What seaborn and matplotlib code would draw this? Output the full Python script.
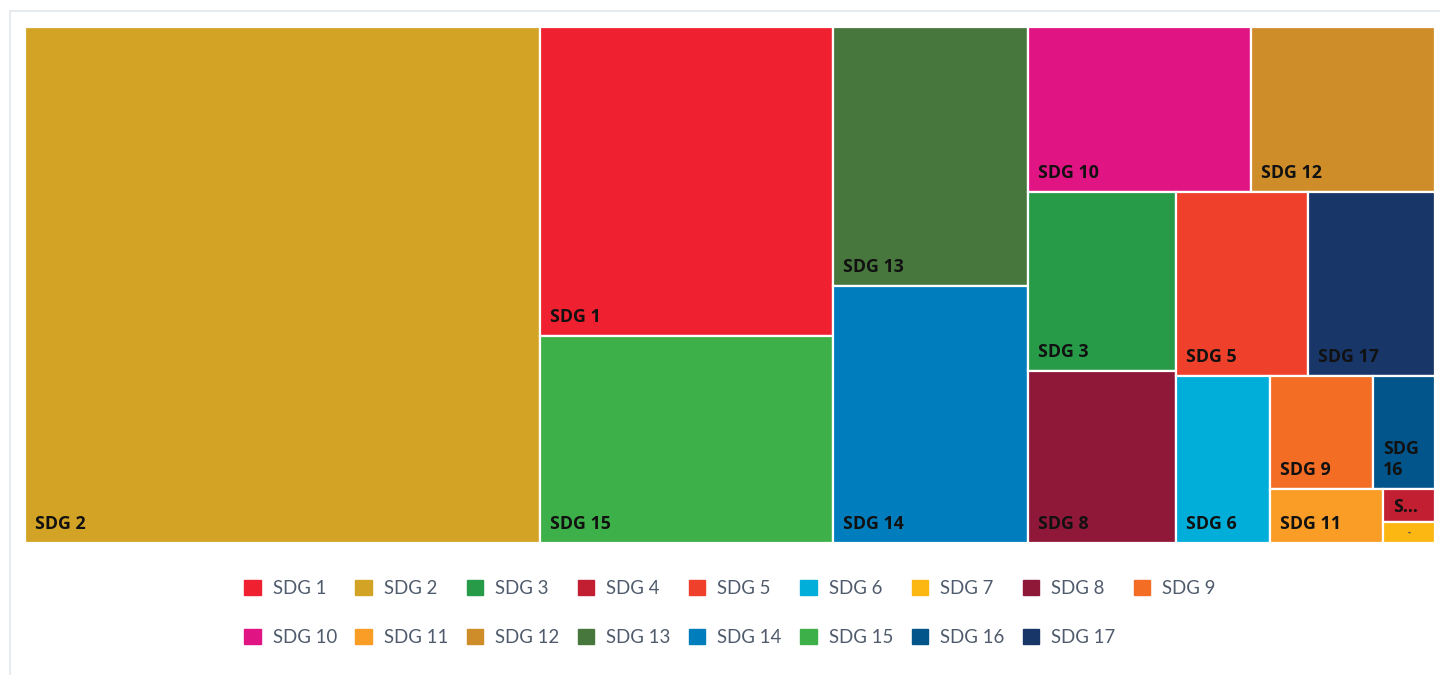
import matplotlib
matplotlib.use("Agg")
import matplotlib.pyplot as plt
from matplotlib.patches import Rectangle, Patch
from matplotlib.lines import Line2D
import seaborn as sns

# ---- data ----
categories = ["SDG 1", "SDG 2", "SDG 3", "SDG 4", "SDG 5", "SDG 6", "SDG 7", "SDG 8", "SDG 9",
              "SDG 10", "SDG 11", "SDG 12", "SDG 13", "SDG 14", "SDG 15", "SDG 16", "SDG 17"]
values = [905, 2657, 265, 17, 243, 157, 11, 255, 116,
          368, 61, 304, 505, 501, 607, 70, 234]
colors = ["#EF2030", "#D3A325", "#279B48", "#C31F33", "#EF402B", "#00AED9", "#FDB713", "#8F1838", "#F36D25",
          "#E11484", "#F99D26", "#CF8D2A", "#48773E", "#007DBC", "#3EB049", "#02558B", "#183668"]

sns.set_theme(style="white")
plt.rcParams['font.family'] = ['Open Sans', 'DejaVu Sans']

W_PX, H_PX = 1440, 675
fig = plt.figure(figsize=(W_PX / 100, H_PX / 100), dpi=100)
ax_l, ax_r, ax_t, ax_b = 25, 1435, 27, 543
ax = fig.add_axes([ax_l / W_PX, 1 - ax_b / H_PX, (ax_r - ax_l) / W_PX, (ax_b - ax_t) / H_PX])
AW, AH = ax_r - ax_l, ax_b - ax_t  # axes size in pixels -> layout units


def worst(row, side):
    s = sum(row)
    return max(max(side * side * r / (s * s), (s * s) / (side * side * r)) for r in row)


def squarify(sizes, x, y, w, h):
    total = sum(s for s, _ in sizes)
    items = [(s * w * h / total, k) for s, k in sizes]
    rects = []
    while items:
        short = min(w, h)
        row = [items[0]]
        i = 1
        while i < len(items):
            cand = row + [items[i]]
            if worst([a for a, _ in cand], short) <= worst([a for a, _ in row], short):
                row = cand
                i += 1
            else:
                break
        s = sum(a for a, _ in row)
        if w >= h:
            cw = s / h
            yy = y
            for a, k in row:
                rh = a / cw
                rects.append((k, x, yy, cw, rh))
                yy += rh
            x += cw
            w -= cw
        else:
            rh = s / w
            xx = x
            for a, k in row:
                rw = a / rh
                rects.append((k, xx, y, rw, rh))
                xx += rw
            y += rh
            h -= rh
        items = items[i:]
    return rects


order = sorted(range(len(values)), key=lambda i: -values[i])
rects = squarify([(values[i], i) for i in order], 0, 0, AW, AH)

ax.set_xlim(0, AW)
ax.set_ylim(AH, 0)
ax.axis("off")

renderer = fig.canvas.get_renderer()
label_fs = 12.8
for k, x, y, w, h in rects:
    ax.add_patch(Rectangle((x, y), w, h, facecolor=colors[k], edgecolor="white", linewidth=1.6))
    name = categories[k]
    pad = 10
    avail = w - 2 * pad
    t = ax.text(x + pad, y + h - 10, name, fontsize=label_fs, fontweight="bold",
                color="#111111", ha="left", va="bottom")
    tw = t.get_window_extent(renderer).width
    th = t.get_window_extent(renderer).height
    if h < th + 6:
        t.set_text("-")
        t.set_fontsize(7)
        t.set_color("#555555")
        t.set_position((x + w / 2, y + h / 2))
        t.set_ha("center")
        t.set_va("center")
        continue
    if tw > avail:
        wrapped = name.replace(" ", "\n")
        t.set_text(wrapped)
        tw2 = t.get_window_extent(renderer).width
        th2 = t.get_window_extent(renderer).height
        if tw2 > avail or th2 > h - 14:
            t.set_text(name[0] + "...")
            t.set_position((x + pad, y + h / 2 + 2))
            t.set_va("center")

# legend, row-major ordering for a 2 x 9 grid
n = len(categories)
ncol = 9
handles = [Patch(facecolor=colors[i], edgecolor=colors[i]) for i in range(n)]
idx = []
for c in range(ncol):
    for r in range(2):
        j = r * ncol + c
        if j < n:
            idx.append(j)
leg = fig.legend([handles[i] for i in idx], [categories[i] for i in idx], ncol=ncol,
                 loc="center", bbox_to_anchor=(730 / W_PX, 1 - 613 / H_PX), frameon=False,
                 prop={"family": ["Lato", "DejaVu Sans"], "size": 13.4},
                 handlelength=0.87, handleheight=0.87, handletextpad=0.65,
                 columnspacing=1.0, labelspacing=1.75)
for txt in leg.get_texts():
    txt.set_color("#4F5B6C")

# outer card frame (left and top edges visible)
fig.add_artist(Line2D([10 / W_PX, 10 / W_PX], [0, 1 - 11 / H_PX], transform=fig.transFigure,
                      color="#E2E7EE", linewidth=1.2))
fig.add_artist(Line2D([10 / W_PX, 1], [1 - 11 / H_PX, 1 - 11 / H_PX], transform=fig.transFigure,
                      color="#E2E7EE", linewidth=1.2))

fig.savefig("out.png", dpi=100, facecolor="white")
